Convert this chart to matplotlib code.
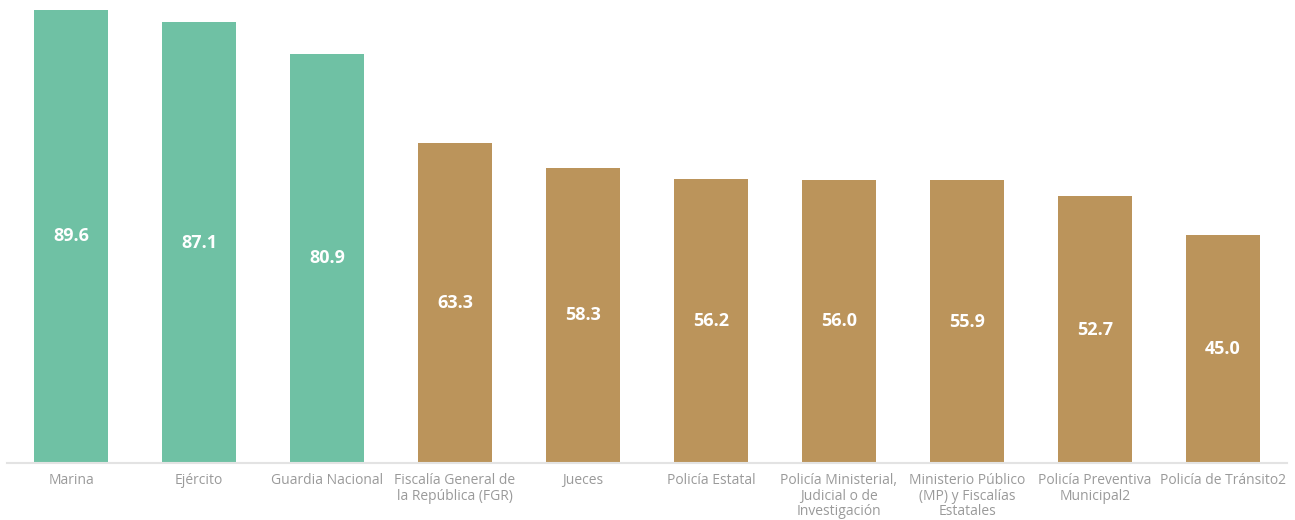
import matplotlib.pyplot as plt
import numpy as np

categories = ['Marina', 'Ejército', 'Guardia Nacional',
              'Fiscalía General de\nla República (FGR)', 'Jueces',
              'Policía Estatal', 'Policía Ministerial,\nJudicial o de\nInvestigación',
              'Ministerio Público\n(MP) y Fiscalías\nEstatales',
              'Policía Preventiva\nMunicipal2', 'Policía de Tránsito2']
values = [89.6, 87.1, 80.9, 63.3, 58.3, 56.2, 56.0, 55.9, 52.7, 45.0]
colors = ['#6FC1A4'] * 3 + ['#BB945B'] * 7

fig = plt.figure(figsize=(12.95, 5.2), dpi=100)
ax = fig.add_axes([7 / 1295, 57 / 520, 1280 / 1295, 463 / 520])

x = np.arange(len(categories))
bars = ax.bar(x, values, width=0.58, color=colors, zorder=2)

for xi, v in zip(x, values):
    ax.text(xi, v / 2, f'{v:.1f}', ha='center', va='center', color='white',
            fontsize=13, fontweight='bold', family='Open Sans')

ax.set_xlim(-0.5, len(categories) - 0.5)
ax.set_ylim(0, 91.5)
ax.set_xticks(x)
ax.set_xticklabels(categories, fontsize=10, color='#9A9A9A', family='Open Sans',
                   linespacing=1.03, va='top')
ax.tick_params(axis='x', length=0, pad=7.5)
ax.set_yticks([])
for s in ['top', 'right', 'left']:
    ax.spines[s].set_visible(False)
ax.spines['bottom'].set_color('#E3E3E3')
ax.spines['bottom'].set_linewidth(1.5)

fig.savefig('out.png', dpi=100)
